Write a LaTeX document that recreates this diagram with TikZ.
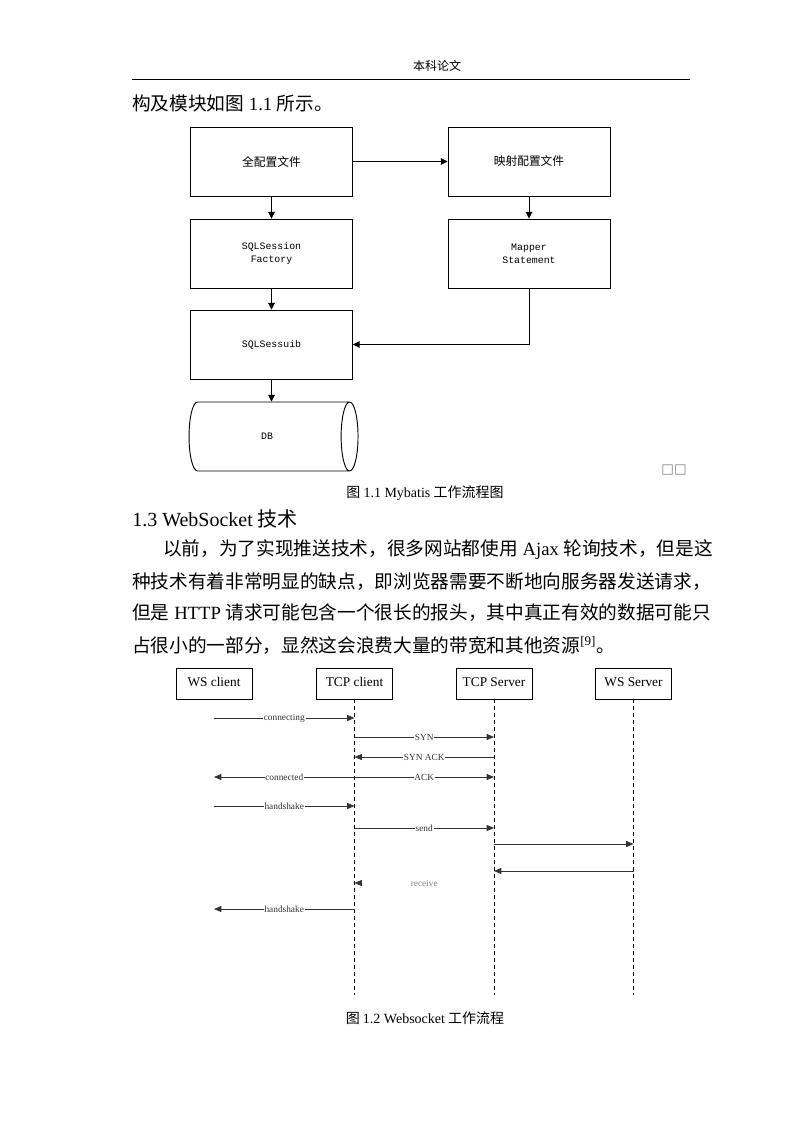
\documentclass[tikz,border=0pt]{standalone}
\usepackage{fontspec}
\setmainfont{Liberation Serif}
\newfontfamily\cjk{Noto Sans CJK SC}
\newfontfamily\boxmono{Liberation Mono}
\newfontfamily\symfont{DejaVu Sans}
\usetikzlibrary{arrows.meta,shapes.geometric,positioning}
\newcommand{\en}[1]{{\rmfamily #1}}
\definecolor{msgcolor}{HTML}{333333}
\tikzset{
  flowbox/.style={draw, line width=0.7pt, minimum width=121.5pt, minimum height=51.75pt,
    align=center, font=\fontsize{7.4}{10}\boxmono},
  flowarrow/.style={line width=0.7pt, -{Triangle[length=5pt,width=5pt]}},
  actor/.style={draw, line width=0.6pt, minimum width=57pt, minimum height=23.25pt,
    text height=6.5pt, text depth=2.5pt, font=\fontsize{10}{12}\selectfont},
  lifeline/.style={line width=0.6pt, dash pattern=on 3pt off 2.25pt},
  msg/.style={draw=msgcolor, line width=0.6pt, -{Triangle[length=5.5pt,width=4.5pt]}},
  msglbl/.style={fill=white, inner sep=0.6pt, text=msgcolor, font=\fontsize{7}{8}\selectfont},
  bodyline/.style={anchor=west, inner sep=0pt, font=\fontsize{14}{16}\cjk},
  caption/.style={font=\fontsize{10.5}{12}\selectfont}
}
\begin{document}
\begin{tikzpicture}[x=0.75pt, y=-0.75pt]
  \fill[white] (0,0) rectangle (793,1122);
  \useasboundingbox (0,0) rectangle (793,1122);

  % page header
  \node[font=\fontsize{9}{10}\cjk] (header) at (437,66) {本科论文};
  \draw[line width=0.6pt] (132,79) -- (690,79);
  \node[bodyline] (intro) at (132,103) {构及模块如图\en{ 1.1 }所示。};

  % Mybatis flow
  \node[flowbox, font=\fontsize{8.8}{10}\cjk] (main) at (271.5,161.5) {全配置文件};
  \node[flowbox, font=\fontsize{8.8}{10}\cjk] (mapcfg) at (529,161.5) {映射配置文件};
  \node[flowbox] (factory) at (271.5,253.5) {SQLSession\\Factory};
  \node[flowbox] (mapper) at (529,253.5) {Mapper\\Statement};
  \node[flowbox] (session) at (271.5,344.5) {SQLSessuib};
  \node[cylinder, draw, line width=0.7pt, shape border rotate=0, aspect=1.1,
        minimum width=51.75pt, minimum height=126.75pt,
        font=\fontsize{7.4}{10}\boxmono] (db) at (267,436.5) {DB};

  \draw[flowarrow] (main) -- (mapcfg);
  \draw[flowarrow] (main) -- (factory);
  \draw[flowarrow] (mapcfg) -- (mapper);
  \draw[flowarrow] (factory) -- (session);
  \draw[flowarrow] (mapper.south) |- (session.east);
  \draw[flowarrow] (session.south) -- (session.south |- db.north);

  \node[font=\fontsize{10}{12}\symfont, text=gray] (boxes) at (674,470.5) {□□};
  \node[caption] (cap1) at (425,493) {\cjk 图 \en{1.1 Mybatis} 工作流程图};

  % section text
  \node[anchor=west, inner sep=0pt, font=\fontsize{15}{17}\selectfont] (sec) at (132,519)
    {1.3 WebSocket {\cjk 技术}};
  \node[bodyline] (p1) at (163,550) {以前，为了实现推送技术，很多网站都使用\en{ Ajax }轮询技术，但是这};
  \node[bodyline] (p2) at (132,582) {种技术有着非常明显的缺点，即浏览器需要不断地向服务器发送请求，};
  \node[bodyline] (p3) at (132,613) {但是\en{ HTTP }请求可能包含一个很长的报头，其中真正有效的数据可能只};
  \node[bodyline] (p4) at (132,645) {占很小的一部分，显然这会浪费大量的带宽和其他资源\textsuperscript{\en{[9]}}。};

  % Websocket sequence
  \node[actor] (wsc) at (214,683.5) {WS client};
  \node[actor] (tcpc) at (354.5,683.5) {TCP client};
  \node[actor] (tcps) at (494,683.5) {TCP Server};
  \node[actor] (wss) at (633.5,683.5) {WS Server};

  \draw[lifeline] (tcpc.south) -- (tcpc.south |- 0,995);
  \draw[lifeline] (tcps.south) -- (tcps.south |- 0,995);
  \draw[lifeline] (wss.south) -- (wss.south |- 0,995);

  \draw[msg] (wsc |- 0,718) -- node[msglbl] {connecting} (tcpc |- 0,718);
  \draw[msg] (tcpc |- 0,737) -- node[msglbl] {SYN} (tcps |- 0,737);
  \draw[msg] (tcps |- 0,757) -- node[msglbl] {SYN ACK} (tcpc |- 0,757);
  \draw[msg] (tcpc |- 0,777) -- node[msglbl] {connected} (wsc |- 0,777);
  \draw[msg] (tcpc |- 0,777) -- node[msglbl] {ACK} (tcps |- 0,777);
  \draw[msg] (wsc |- 0,806) -- node[msglbl] {handshake} (tcpc |- 0,806);
  \draw[msg] (tcpc |- 0,828) -- node[msglbl] {send} (tcps |- 0,828);
  \draw[msg] (tcps |- 0,844) -- (wss |- 0,844);
  \draw[msg] (wss |- 0,871) -- (tcps |- 0,871);
  \draw[msg, draw=white, shorten <=2pt, -{Triangle[length=5.5pt,width=4.5pt,color=msgcolor]}]
    (tcps |- 0,883) -- node[msglbl, text=gray] {receive} (tcpc |- 0,883);
  \draw[msg] (tcpc |- 0,909) -- node[msglbl] {handshake} (wsc |- 0,909);

  \node[caption] (cap2) at (425,1018) {\cjk 图 \en{1.2 Websocket} 工作流程};
\end{tikzpicture}
\end{document}
